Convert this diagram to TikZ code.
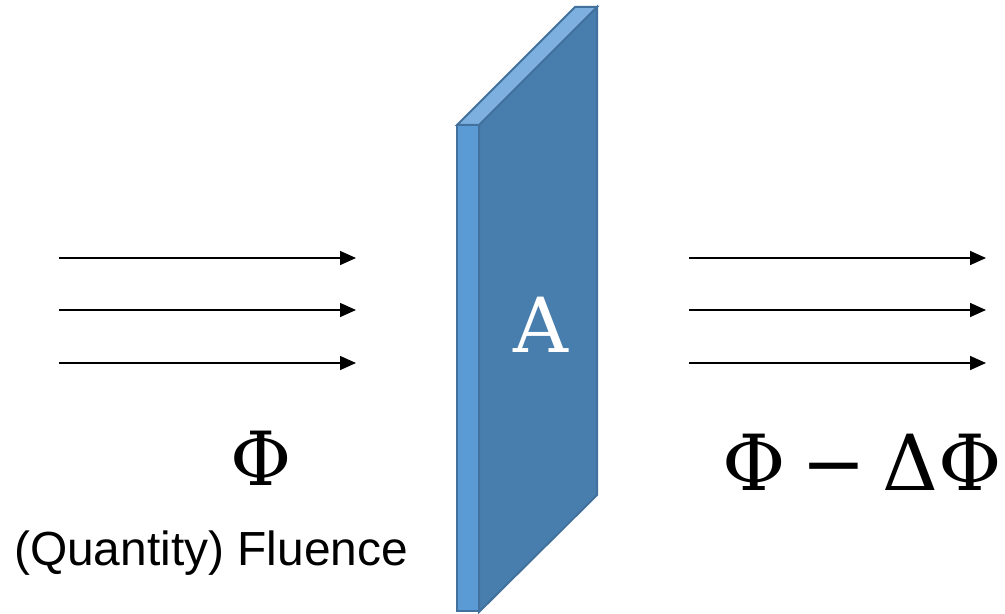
\documentclass[tikz,border=0pt]{standalone}
\usepackage{fontspec}
\newfontfamily\labelfont{Liberation Sans}
\newfontfamily\symfont{DejaVu Serif}
\usetikzlibrary{arrows.meta}

\definecolor{slabfront}{HTML}{5B9BD5}
\definecolor{slabtop}{HTML}{7EB0DF}
\definecolor{slabside}{HTML}{487EAD}
\definecolor{slabedge}{HTML}{41719C}

\tikzset{
  face/.style={draw=slabedge, line width=1.5pt, line join=miter},
  ray/.style={line width=1.1pt, -{Triangle[length=12pt,width=10.5pt]}},
  sym/.style={inner sep=0pt, anchor=base},
}

\begin{document}
\begin{tikzpicture}[x=0.75pt,y=-0.75pt]
\useasboundingbox (0,0) rectangle (1005,613);

% slab: side face, top face, thin front face
\fill[slabside] (479,125) -- (597,7) -- (597,495) -- (479,612) -- cycle;
\draw[face] (479,125) -- (597,7) -- (597,495) -- (479,612) -- cycle;
\filldraw[face, fill=slabtop] (457,125) -- (575,7) -- (597,7) -- (479,125) -- cycle;
\filldraw[face, fill=slabfront] (457,125) rectangle (479,611);

\node[sym, text=white, font=\symfont\fontsize{57}{57}\selectfont] (area) at (541,352) {A};

% incoming rays
\foreach \i/\y in {1/258, 2/310, 3/363} {
  \coordinate (in\i s) at (59,\y);
  \coordinate (in\i e) at (356,\y);
  \draw[ray] (in\i s) -- (in\i e);
}
% outgoing rays
\foreach \i/\y in {1/258, 2/310, 3/363} {
  \coordinate (out\i s) at (689,\y);
  \coordinate (out\i e) at (986,\y);
  \draw[ray] (out\i s) -- (out\i e);
}

\node[sym, font=\symfont\fontsize{56}{56}\selectfont] (phiin) at (261,485) {Φ};
\node[sym, font=\symfont\fontsize{58}{58}\selectfont] (phiout) at (862,490)
  {Φ\hspace{12pt}−\hspace{12pt}ΔΦ};
\node[sym, font=\labelfont\fontsize{35.9}{40}\selectfont] (fluence) at (211,565) {(Quantity) Fluence};
\end{tikzpicture}
\end{document}
